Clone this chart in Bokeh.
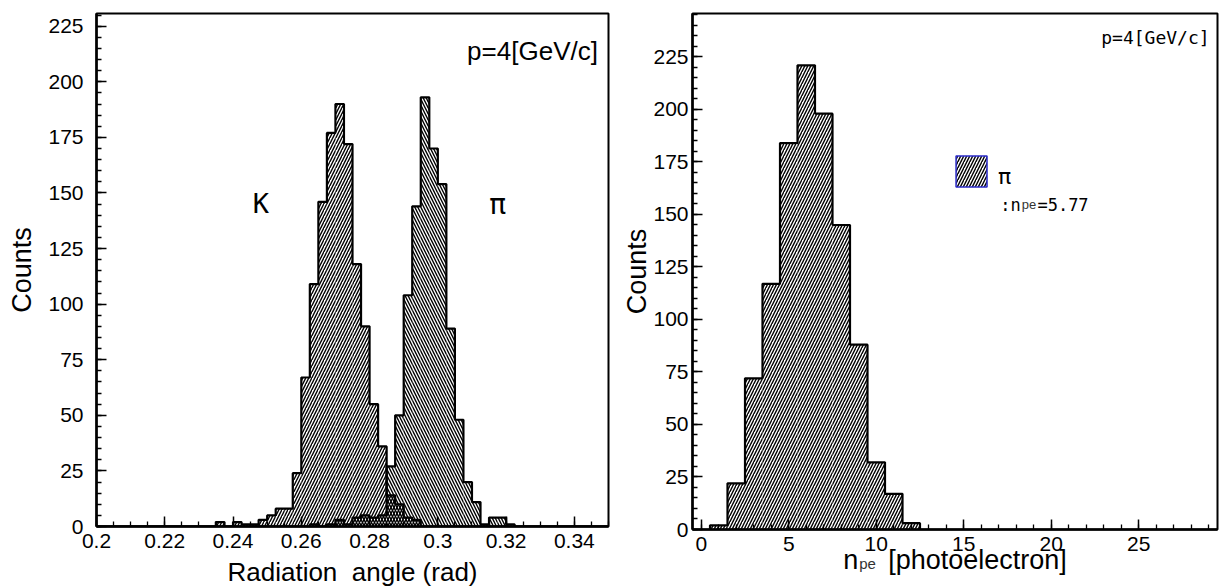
import numpy as np
from bokeh.plotting import figure
from bokeh.layouts import row
from bokeh.models import (Label, FixedTicker, LinearAxis,
                          CustomJSTickFormatter, BoxAnnotation)
from bokeh.embed import file_html
from bokeh.resources import INLINE

# ---------------- data ----------------
# left panel: Cherenkov radiation angle histograms (60 bins, 0.2 .. 0.35 rad)
angle_bin_start = 0.2
angle_bin_width = 0.0025
kaon_counts = [0, 0, 0, 0, 0, 0, 0, 0, 0, 0,
               0, 0, 0, 0, 2, 0, 2, 1, 1, 3,
               5, 8, 8, 24, 67, 109, 146, 177, 190, 172,
               118, 90, 55, 36, 14, 10, 4, 3, 0, 0,
               0, 0, 0, 0, 0, 0, 0, 0, 0, 0,
               0, 0, 0, 0, 0, 0, 0, 0, 0, 0]
pion_counts = [0, 0, 0, 0, 0, 0, 0, 0, 0, 0,
               0, 0, 0, 0, 0, 0, 0, 0, 0, 0,
               0, 0, 0, 0, 0, 1, 0, 1, 3, 1,
               4, 5, 4, 5, 27, 50, 104, 144, 193, 170,
               154, 89, 48, 20, 11, 1, 4, 4, 1, 0,
               0, 0, 0, 0, 0, 0, 0, 0, 0, 0]
angle_ticks = [0.2, 0.22, 0.24, 0.26, 0.28, 0.3, 0.32, 0.34]
count_ticks = [0, 25, 50, 75, 100, 125, 150, 175, 200, 225]

# right panel: number of photoelectrons for pions
npe_bin_centers = [1, 2, 3, 4, 5, 6, 7, 8, 9, 10, 11, 12]
npe_counts = [2, 22, 72, 117, 184, 221, 198, 145, 88, 32, 17, 3]
npe_mean = 5.77
npe_ticks = [0, 5, 10, 15, 20, 25]
momentum_text = "p=4[GeV/c]"

FONT = "Liberation Sans"
GOTHIC = "DejaVu Sans Mono"
HATCH_SCALE = 6
HATCH_WEIGHT = 1.4
NBSP = "\u00a0"


def step_outline(lefts, rights, counts):
    xs, ys = [lefts[0]], [0]
    for l, r, c in zip(lefts, rights, counts):
        xs += [l, r]
        ys += [c, c]
    xs.append(rights[-1])
    ys.append(0)
    return xs, ys


def hist(p, lefts, rights, counts, pattern):
    p.quad(left=lefts, right=rights, bottom=0, top=counts,
           fill_color=None, line_color=None,
           hatch_pattern=pattern, hatch_color="black",
           hatch_scale=HATCH_SCALE, hatch_weight=HATCH_WEIGHT)
    xs, ys = step_outline(lefts, rights, counts)
    p.line(xs, ys, line_color="black", line_width=2.2)


def style_axes(p):
    p.grid.visible = False
    p.outline_line_color = "black"
    p.outline_line_width = 2
    for ax in (p.xaxis[0], p.yaxis[0]):
        ax.axis_line_width = 2.5
        ax.axis_line_color = "black"
        ax.major_tick_in = 10
        ax.major_tick_out = 0
        ax.minor_tick_in = 5
        ax.minor_tick_out = 0
        ax.major_tick_line_width = 1.5
        ax.minor_tick_line_width = 1.3
        ax.major_tick_line_color = "black"
        ax.minor_tick_line_color = "black"
        ax.major_label_text_font = FONT
        ax.major_label_text_font_size = "21px"
        ax.major_label_text_color = "black"
        ax.axis_label_text_font = FONT
        ax.axis_label_text_font_style = "normal"
        ax.axis_label_text_color = "black"


# ---------------- left panel ----------------
n_bins = len(kaon_counts)
lefts = [angle_bin_start + i * angle_bin_width for i in range(n_bins)]
rights = [l + angle_bin_width for l in lefts]

p1 = figure(frame_width=512, frame_height=513,
            x_range=(0.2, 0.35), y_range=(0, 230.7),
            output_backend="svg", toolbar_location=None,
            min_border_left=96, min_border_right=8,
            min_border_top=7, min_border_bottom=68,
            background_fill_color="white", border_fill_color="white")
hist(p1, lefts, rights, kaon_counts, "/")
hist(p1, lefts, rights, pion_counts, "\\")
style_axes(p1)

p1.xaxis.ticker = FixedTicker(ticks=angle_ticks,
                              minor_ticks=list(np.round(np.arange(0.2, 0.3501, 0.005), 4)))
p1.xaxis.formatter = CustomJSTickFormatter(
    code="var s = tick.toFixed(2); if (s.endsWith('0')) s = s.slice(0, -1); return s;")
p1.yaxis.ticker = FixedTicker(ticks=count_ticks, minor_ticks=list(range(0, 231, 5)))
p1.xaxis.axis_label = "Radiation" + NBSP + " angle (rad)"
p1.xaxis.axis_label_text_font_size = "26px"
p1.xaxis.major_label_standoff = 7
p1.xaxis.axis_label_standoff = 6
p1.yaxis.axis_label = "Counts"
p1.yaxis.axis_label_text_font_size = "27px"
p1.yaxis.major_label_standoff = 13
p1.yaxis.axis_label_standoff = 8

p1.add_layout(Label(x=0.3469, y=213.8, text=momentum_text, text_align="right",
                    text_baseline="alphabetic", text_font=FONT,
                    text_font_size="26px", text_color="black"))
p1.add_layout(Label(x=0.2458, y=145.2, text="K", text_align="left",
                    text_baseline="alphabetic", text_font=GOTHIC,
                    text_font_size="27px", text_color="black"))
p1.add_layout(Label(x=0.3151, y=144.8, text="π", text_align="left",
                    text_baseline="alphabetic", text_font="DejaVu Sans",
                    text_font_size="28px", text_color="black"))

# ---------------- right panel ----------------
npe_lefts = [c - 0.5 for c in npe_bin_centers]
npe_rights = [c + 0.5 for c in npe_bin_centers]

p2 = figure(frame_width=525, frame_height=516,
            x_range=(-0.5, 29.5), y_range=(0, 245.7),
            output_backend="svg", toolbar_location=None,
            min_border_left=76, min_border_right=5,
            min_border_top=13, min_border_bottom=59,
            background_fill_color="white", border_fill_color="white")
hist(p2, npe_lefts, npe_rights, npe_counts, "/")
style_axes(p2)
p2.xaxis.ticker = FixedTicker(ticks=npe_ticks, minor_ticks=list(range(0, 30)))
p2.yaxis.ticker = FixedTicker(ticks=count_ticks, minor_ticks=list(range(0, 246, 5)))
p2.xaxis.major_label_standoff = 7
p2.yaxis.axis_label = "Counts"
p2.yaxis.axis_label_text_font_size = "27px"
p2.yaxis.major_label_standoff = 4
p2.yaxis.axis_label_standoff = -2

# x-axis title "n_pe  [photoelectron]": main part on the axis, subscript on a
# second, tick-less axis stacked just under it
p2.xaxis.axis_label = "n" + NBSP * 4 + "[photoelectron]"
p2.xaxis.axis_label_text_font_size = "27px"
p2.xaxis.axis_label_standoff = -9
sub_axis = LinearAxis(ticker=FixedTicker(ticks=[]), axis_line_color=None,
                      major_tick_line_color=None, minor_tick_line_color=None,
                      major_tick_out=0, major_tick_in=0, minor_tick_out=0,
                      major_label_standoff=0,
                      axis_label="pe" + NBSP * 42,
                      axis_label_text_font=FONT, axis_label_text_font_size="15px",
                      axis_label_text_font_style="normal",
                      axis_label_text_color="#333333",
                      axis_label_standoff=-23)
p2.add_layout(sub_axis, "below")

p2.add_layout(Label(x=29.05, y=234.4, text=momentum_text, text_align="right",
                    text_baseline="alphabetic", text_font=GOTHIC,
                    text_font_size="18px", text_color="black"))

# legend
p2.add_layout(BoxAnnotation(left=14.56, right=16.33, bottom=163.1, top=177.9,
                            fill_color=None, line_color="#2a2ac8", line_width=1.5,
                            line_alpha=1, hatch_pattern="/", hatch_color="black",
                            hatch_scale=HATCH_SCALE, hatch_weight=HATCH_WEIGHT))
p2.add_layout(Label(x=16.95, y=167.9, text="π", text_baseline="alphabetic",
                    text_font="DejaVu Sans", text_font_size="22px", text_color="black"))
p2.add_layout(Label(x=17.09, y=154.7, text=":n", text_baseline="alphabetic",
                    text_font=GOTHIC, text_font_size="17px", text_color="black"))
p2.add_layout(Label(x=18.32, y=154.7, text="pe", text_baseline="alphabetic",
                    text_font=FONT, text_font_size="13px", text_color="#333333"))
p2.add_layout(Label(x=19.21, y=154.7, text=f"={npe_mean:.2f}", text_baseline="alphabetic",
                    text_font=GOTHIC, text_font_size="17px", text_color="black"))

layout = row(p1, p2)
open("out.html", "w").write(file_html(layout, INLINE))
